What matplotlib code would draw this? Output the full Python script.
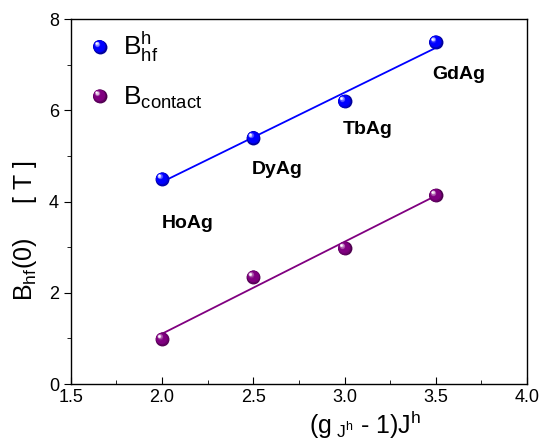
import numpy as np
import matplotlib
matplotlib.use('Agg')
import matplotlib.pyplot as plt
import matplotlib.transforms as mtransforms
from matplotlib.colors import to_rgb

plt.rcParams['font.family'] = ['Liberation Sans', 'DejaVu Sans']
plt.rcParams['mathtext.fontset'] = 'custom'
plt.rcParams['mathtext.rm'] = 'Liberation Sans'
plt.rcParams['mathtext.it'] = 'Liberation Sans'
plt.rcParams['mathtext.default'] = 'regular'

# data
x_vals = [2.0, 2.5, 3.0, 3.5]
b_hf = [4.5, 5.4, 6.2, 7.5]
b_contact = [0.99, 2.35, 2.98, 4.14]
compounds = ['HoAg', 'DyAg', 'TbAg', 'GdAg']
label_x = [2.0, 2.49, 2.99, 3.48]
label_y = [3.53, 4.71, 5.59, 6.78]

blue = '#0000ff'
purple = '#800080'


def sphere(ax, x, y, color, size=10.0, transform=None, n=14):
    """fake shaded ball marker: stacked circles shifted to upper left"""
    if transform is None:
        transform = ax.transData
    base = np.array(to_rgb(color))
    dark = base * 0.6
    fig = ax.figure
    for i in range(n):
        t = i / (n - 1)
        if t < 0.25:
            c = dark * (1 - t / 0.25) + base * (t / 0.25)
        elif t < 0.65:
            c = base
        else:
            u = (t - 0.65) / 0.35
            c = base * (1 - u) + np.ones(3) * u
        d = size * (1 - 0.85 * t)
        off = size * 0.24 * t
        tr = mtransforms.offset_copy(transform, fig=fig, x=-off, y=off, units='points')
        ax.scatter(x, y, s=d ** 2, color=np.clip(c, 0, 1), linewidths=0,
                   transform=tr, zorder=5 + i * 0.01, clip_on=False)


fig = plt.figure(figsize=(5.41, 4.45), dpi=100)
ax = fig.add_axes([0.131, 0.137, 0.843, 0.820])

for yv, col in [(b_hf, blue), (b_contact, purple)]:
    k, b = np.polyfit(x_vals, yv, 1)
    xx = np.array([x_vals[0], x_vals[-1]])
    ax.plot(xx, k * xx + b, color=col, lw=1.3, zorder=3)
    sphere(ax, x_vals, yv, col)

for name, lx, ly in zip(compounds, label_x, label_y):
    ax.text(lx, ly, name, fontsize=14, fontweight='bold', va='center', ha='left')

# legend drawn by hand
sphere(ax, [0.063], [0.925], blue, transform=ax.transAxes)
ax.text(0.115, 0.925, r'$B^{h}_{hf}$', transform=ax.transAxes, fontsize=19, va='center')
sphere(ax, [0.063], [0.79], purple, transform=ax.transAxes)
ax.text(0.115, 0.785, r'$B_{contact}$', transform=ax.transAxes, fontsize=19, va='center')

ax.set_xlim(1.5, 4.0)
ax.set_ylim(0, 8)
ax.set_xticks([1.5, 2.0, 2.5, 3.0, 3.5, 4.0])
ax.set_xticklabels(['1.5', '2.0', '2.5', '3.0', '3.5', '4.0'])
ax.set_xticks(np.arange(1.75, 4.0, 0.5), minor=True)
ax.set_yticks([0, 2, 4, 6, 8])
ax.set_yticks([1, 3, 5, 7], minor=True)
ax.tick_params(axis='x', which='both', direction='in', top=False, labelsize=13)
ax.tick_params(axis='y', which='both', direction='out', right=False, labelsize=13)
ax.tick_params(which='major', length=5)
ax.tick_params(which='minor', length=3)
for s in ax.spines.values():
    s.set_linewidth(1.0)

ax.set_xlabel(r'$(g_{\ J^{h}}$ - 1)$J^{h}$', fontsize=18)
ax.set_ylabel(r'$B_{hf}(0)$     [ T ]', fontsize=18)
ax.xaxis.set_label_coords(0.645, -0.068)
ax.yaxis.set_label_coords(-0.07, 0.42)

fig.savefig('out.png', dpi=100)
